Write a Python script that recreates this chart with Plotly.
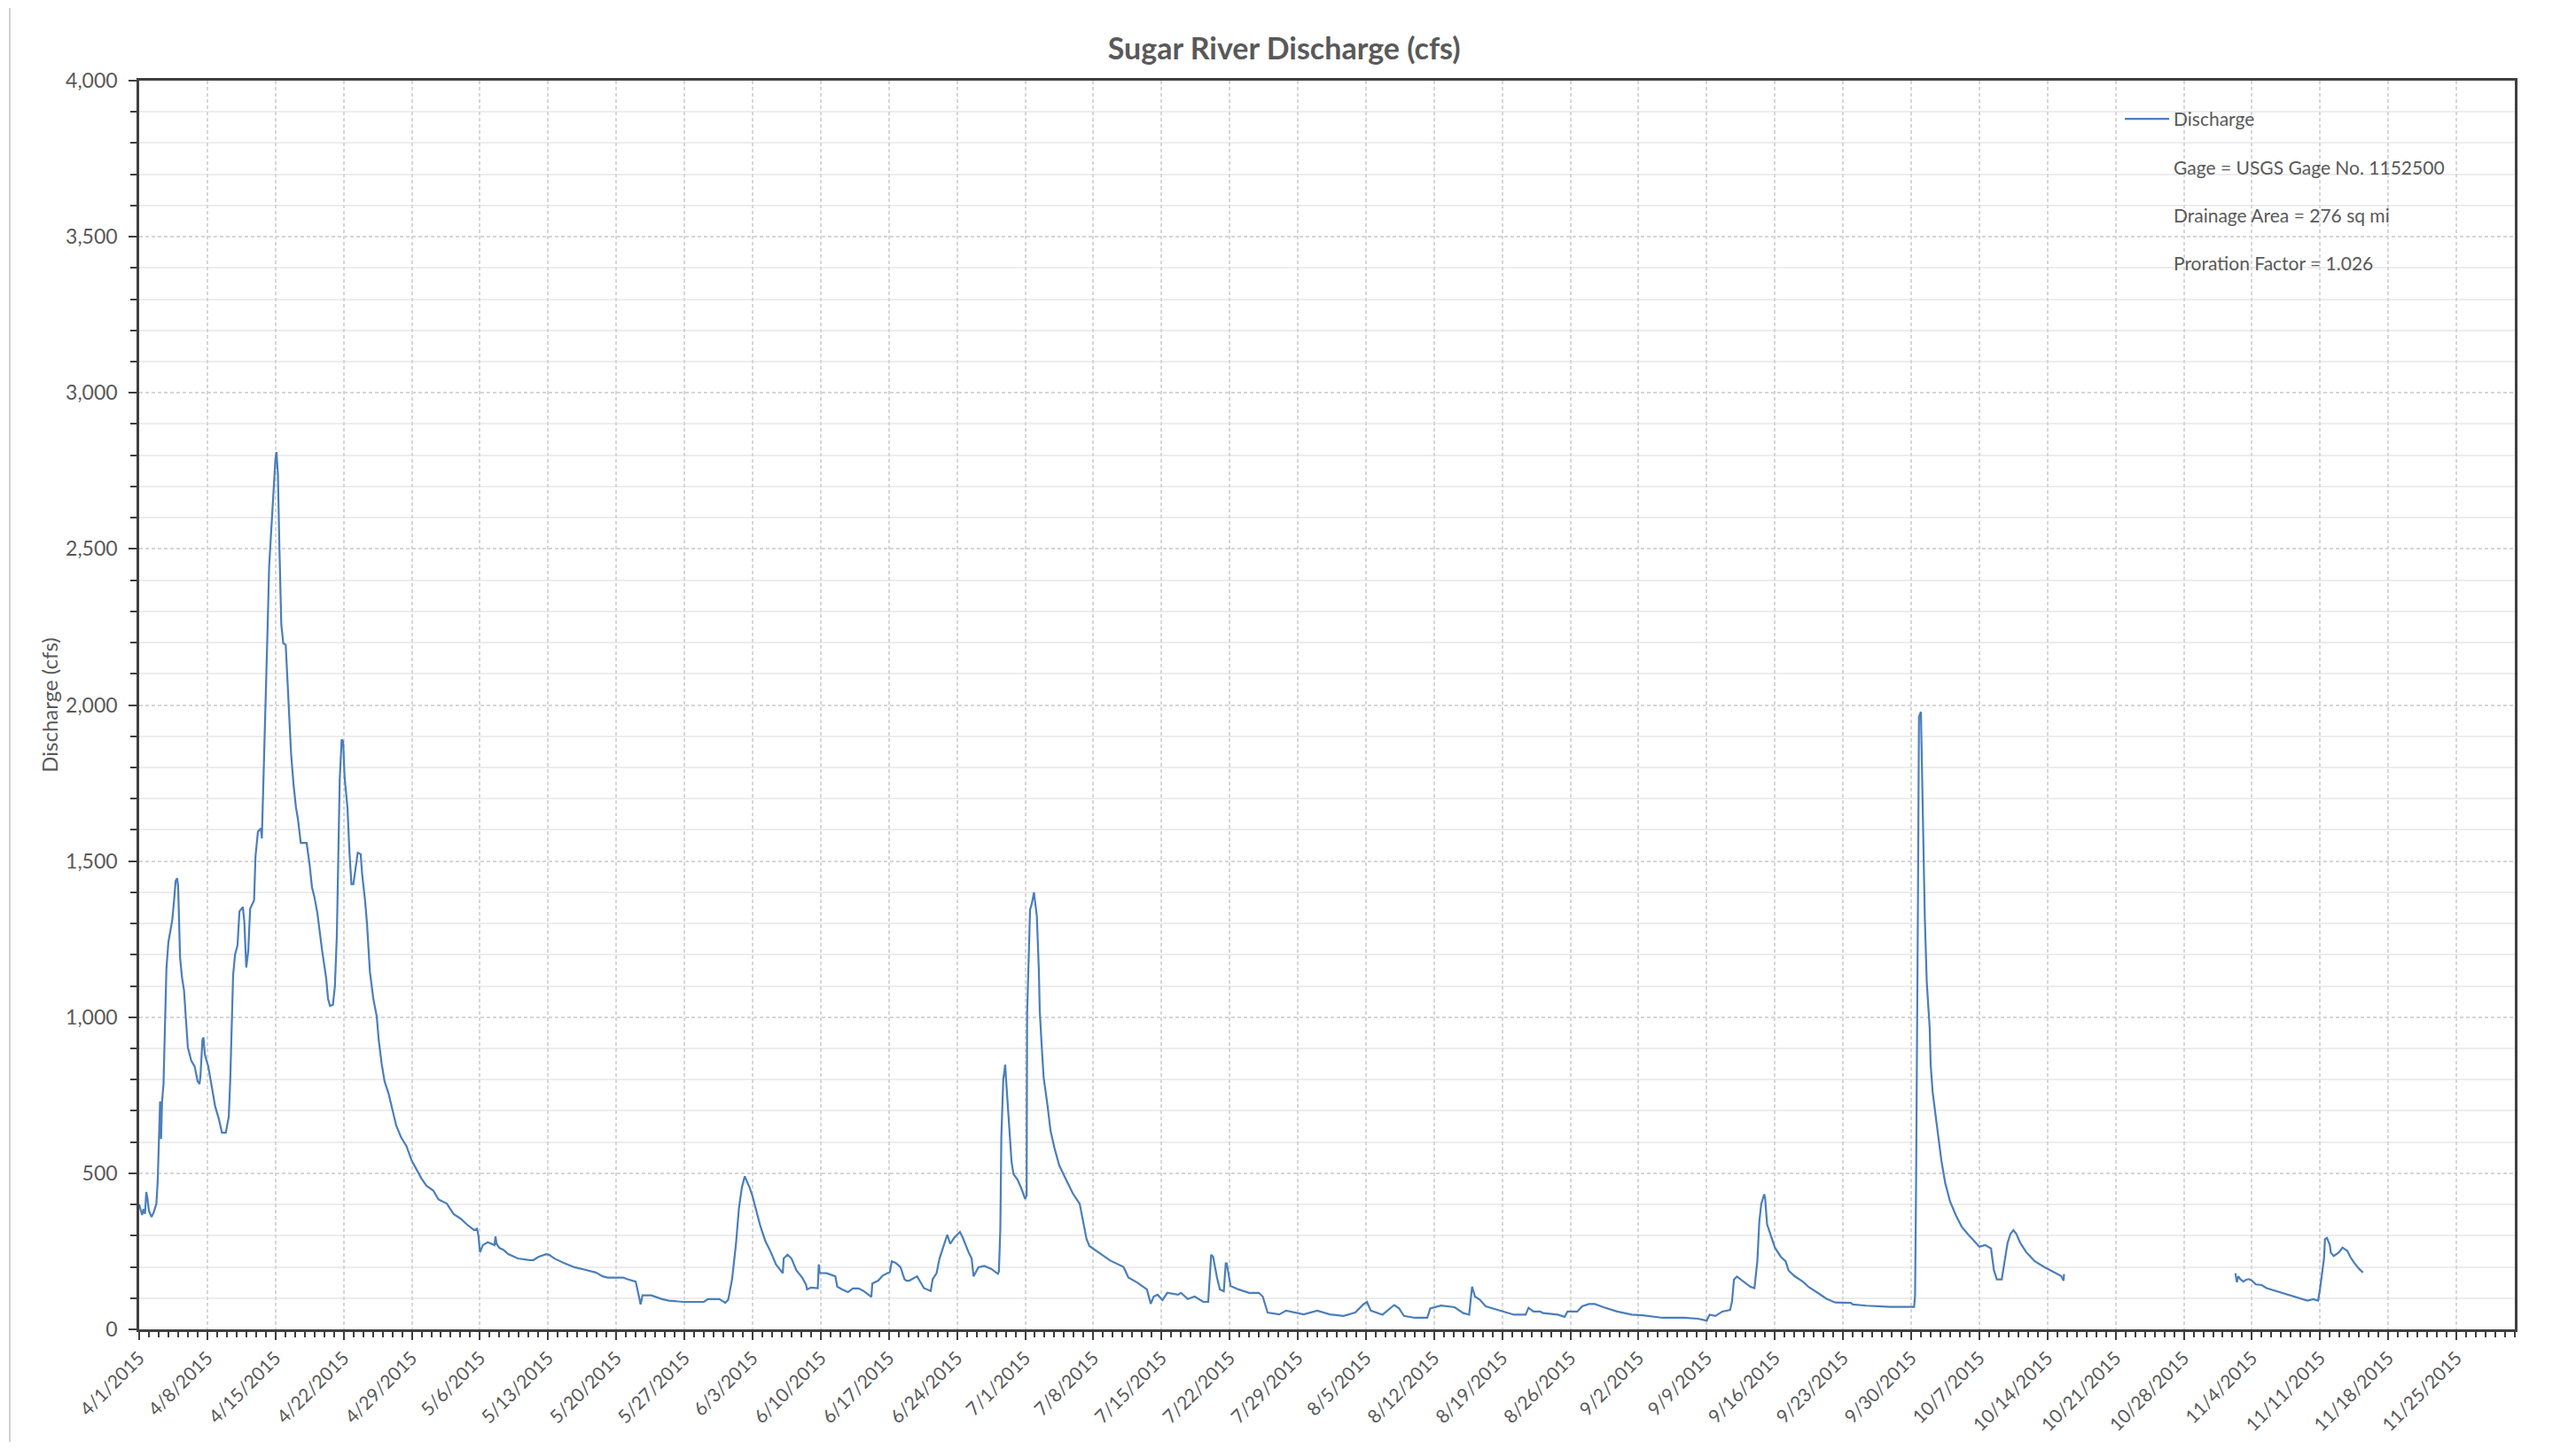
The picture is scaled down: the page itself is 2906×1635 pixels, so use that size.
import pandas as pd
import plotly.graph_objects as go

# ---------------- data ----------------
start_date = "2015-04-01"

# elapsed time since start_date, in days
elapsed_days = [
    0.0, 0.15, 0.3, 0.45, 0.6, 0.73, 0.85, 1.0, 1.26, 1.5,
    1.77, 1.9, 2.0, 2.15, 2.25, 2.35, 2.5, 2.65, 2.8, 3.0,
    3.2, 3.4, 3.55, 3.75, 3.9, 4.0, 4.2, 4.4, 4.6, 4.75,
    4.9, 5.0, 5.35, 5.7, 6.0, 6.2, 6.3, 6.5, 6.6, 6.75,
    7.1, 7.45, 7.8, 8.2, 8.5, 8.9, 9.2, 9.35, 9.5, 9.65,
    9.85, 10.1, 10.3, 10.65, 10.8, 11.0, 11.2, 11.4, 11.8, 11.95,
    12.2, 12.5, 12.6, 12.7, 12.95, 13.2, 13.35, 13.5, 13.65, 13.85,
    14.0, 14.1, 14.25, 14.4, 14.6, 14.8, 15.05, 15.2, 15.4, 15.6,
    15.85, 16.1, 16.3, 16.6, 17.2, 17.5, 17.75, 18.0, 18.3, 18.5,
    18.8, 19.2, 19.4, 19.6, 19.9, 20.1, 20.3, 20.45, 20.6, 20.8,
    20.95, 21.1, 21.4, 21.6, 21.8, 22.0, 22.2, 22.45, 22.75, 22.9,
    23.2, 23.4, 23.7, 24.05, 24.4, 24.6, 24.9, 25.2, 25.6, 25.9,
    26.4, 26.9, 27.45, 28.0, 28.5, 29.0, 29.5, 30.2, 30.75, 31.6,
    32.3, 33.0, 33.7, 34.4, 34.7, 34.85, 35.0, 35.3, 35.8, 36.5,
    36.6, 36.7, 37.0, 37.4, 37.9, 38.3, 38.9, 40.1, 40.5, 41.0,
    41.8, 42.1, 42.7, 43.6, 44.7, 45.8, 46.9, 47.6, 48.1, 49.7,
    50.1, 51.0, 51.2, 51.5, 51.7, 52.6, 53.7, 54.4, 55.9, 58.0,
    58.4, 59.6, 60.2, 60.5, 60.9, 61.3, 61.6, 61.9, 62.2, 62.7,
    63.0, 63.4, 63.8, 64.3, 64.9, 65.4, 66.0, 66.1, 66.2, 66.6,
    67.0, 67.5, 68.1, 68.5, 68.6, 69.0, 69.7, 69.8, 69.9, 70.6,
    71.5, 71.7, 72.2, 72.8, 73.3, 73.9, 74.4, 75.2, 75.3, 75.9,
    76.4, 77.1, 77.3, 77.7, 78.2, 78.6, 78.8, 79.1, 79.9, 80.6,
    81.3, 81.5, 81.9, 82.2, 82.6, 83.0, 83.3, 83.7, 84.3, 84.6,
    85.2, 85.5, 85.7, 86.2, 86.8, 87.5, 88.2, 88.3, 88.45, 88.55,
    88.75, 88.95, 89.05, 89.3, 89.5, 89.6, 89.8, 90.2, 90.6, 91.0,
    91.15, 91.2, 91.5, 91.7, 91.9, 92.2, 92.4, 92.5, 92.7, 92.9,
    93.3, 93.6, 94.0, 94.5, 95.2, 95.9, 96.6, 96.9, 97.3, 97.6,
    98.7, 99.7, 101.1, 101.6, 102.5, 103.5, 103.9, 104.2, 104.6, 105.1,
    105.6, 106.7, 107.0, 107.7, 108.4, 109.3, 109.8, 110.1, 110.3, 110.7,
    111.0, 111.4, 111.6, 111.7, 112.1, 112.9, 114.0, 115.0, 115.4, 115.9,
    117.1, 117.8, 119.6, 121.0, 122.3, 123.7, 124.9, 125.7, 126.1, 126.5,
    127.7, 128.3, 128.9, 129.4, 129.9, 131.0, 132.3, 132.6, 133.7, 135.1,
    136.0, 136.6, 136.9, 137.2, 137.7, 138.3, 139.5, 140.6, 141.2, 142.4,
    142.7, 143.2, 143.9, 144.2, 145.7, 146.4, 146.7, 147.7, 148.2, 148.9,
    149.5, 150.4, 151.8, 153.3, 154.4, 156.5, 158.7, 160.1, 161.0, 161.3,
    161.9, 162.6, 163.4, 163.6, 163.8, 164.1, 164.7, 165.5, 165.9, 166.2,
    166.4, 166.6, 166.9, 167.0, 167.2, 167.6, 168.0, 168.6, 169.1, 169.4,
    170.0, 170.9, 171.5, 172.4, 173.3, 174.2, 175.8, 176.0, 177.4, 179.8,
    182.3, 182.4, 182.5, 182.7, 182.8, 183.0, 183.1, 183.3, 183.4, 183.6,
    183.9, 184.0, 184.2, 184.5, 184.8, 185.1, 185.5, 186.0, 186.6, 187.2,
    187.8, 188.4, 189.0, 189.6, 190.2, 190.5, 190.8, 191.3, 191.6, 191.9,
    192.2, 192.5, 192.8, 193.2, 193.8, 194.7, 195.6, 196.5, 197.4, 197.65,
    197.7, 206.0, 215.3, 215.45, 215.6, 215.8, 216.1, 216.4, 216.7, 217.0,
    217.4, 218.0, 218.5, 219.4, 220.3, 221.2, 222.1, 222.7, 223.3, 223.8,
    224.0, 224.2, 224.4, 224.5, 224.7, 225.0, 225.1, 225.4, 225.9, 226.3,
    226.8, 227.1, 227.5, 228.0, 228.4,
]

# discharge in cfs (None = missing record, leaves a gap)
discharge_cfs = [
    400, 380, 366, 385, 370, 440, 420, 380, 360, 375,
    403, 473, 587, 730, 610, 729, 786, 1013, 1155, 1240,
    1277, 1311, 1362, 1437, 1445, 1420, 1192, 1127, 1088, 1022,
    960, 903, 861, 842, 795, 786, 814, 928, 935, 880,
    842, 776, 715, 672, 630, 630, 681, 795, 974, 1135,
    1201, 1230, 1339, 1353, 1306, 1159, 1211, 1348, 1374, 1516,
    1595, 1605, 1573, 1678, 1962, 2257, 2445, 2529, 2613, 2739,
    2790, 2810, 2739, 2508, 2257, 2198, 2193, 2099, 1989, 1846,
    1747, 1673, 1636, 1558, 1558, 1490, 1416, 1385, 1334, 1277,
    1211, 1127, 1059, 1036, 1040, 1098, 1258, 1510, 1763, 1890,
    1883, 1768, 1669, 1527, 1426, 1426, 1468, 1527, 1522, 1459,
    1374, 1300, 1145, 1059, 1003, 928, 852, 795, 757, 719,
    653, 615, 587, 540, 511, 483, 460, 445, 416, 403,
    369, 355, 335, 318, 322, 300, 247, 270, 279, 270,
    298, 274, 261, 255, 241, 236, 227, 222, 222, 232,
    241, 239, 226, 213, 199, 191, 182, 170, 166, 166,
    161, 153, 123, 80, 109, 109, 97, 92, 88, 88,
    97, 97, 85, 95, 161, 274, 388, 454, 490, 454,
    426, 378, 331, 284, 246, 208, 184, 180, 227, 239,
    227, 189, 166, 142, 128, 134, 132, 208, 181, 180,
    170, 137, 128, 119, 131, 131, 123, 104, 147, 156,
    173, 184, 218, 213, 199, 161, 156, 156, 170, 132,
    123, 161, 180, 227, 265, 303, 274, 293, 312, 293,
    246, 227, 170, 199, 203, 194, 178, 185, 323, 616,
    800, 848, 795, 680, 571, 537, 497, 480, 452, 418,
    430, 1008, 1344, 1366, 1400, 1323, 1153, 1019, 906, 806,
    716, 637, 582, 525, 480, 435, 402, 357, 290, 267,
    244, 221, 200, 166, 150, 128, 82, 105, 111, 94,
    117, 111, 117, 97, 105, 88, 88, 239, 233, 166,
    128, 122, 211, 211, 139, 128, 117, 117, 105, 54,
    48, 60, 48, 60, 48, 43, 54, 79, 88, 60,
    47, 62, 78, 67, 43, 37, 37, 67, 76, 71,
    52, 47, 137, 105, 95, 74, 62, 52, 47, 47,
    69, 57, 57, 52, 47, 40, 57, 57, 74, 81,
    81, 71, 57, 47, 45, 37, 37, 34, 28, 47,
    43, 57, 62, 90, 160, 169, 155, 136, 132, 218,
    345, 401, 433, 420, 336, 299, 262, 233, 218, 189,
    171, 152, 135, 117, 98, 86, 85, 80, 76, 72,
    72, 108, 453, 1391, 1962, 1978, 1816, 1567, 1318, 1113,
    966, 849, 761, 687, 614, 541, 468, 409, 365, 328,
    306, 284, 265, 270, 259, 189, 160, 160, 218, 277,
    306, 318, 306, 277, 248, 218, 201, 186, 171, 156,
    177, None, 180, 151, 170, 161, 153, 159, 161, 156,
    144, 142, 132, 123, 114, 106, 97, 92, 97, 92,
    132, 180, 227, 289, 293, 270, 246, 235, 246, 262,
    251, 232, 213, 194, 182,
]

assert len(elapsed_days) == len(discharge_cfs)

series_name = "Discharge"
legend_notes = [
    "Gage = USGS Gage No. 1152500",
    "Drainage Area = 276 sq mi",
    "Proration Factor = 1.026",
]
chart_title = "Sugar River Discharge (cfs)"
y_title = "Discharge (cfs)"
x_range = ["2015-04-01", "2015-12-01"]
y_range = [0, 4000]

# ---------------- figure ----------------
t0 = pd.Timestamp(start_date)
x_dates = [t0 + pd.Timedelta(days=d) for d in elapsed_days]

FONT = "Lato, 'Open Sans', sans-serif"
TXT = "#595959"
AX = "#3f3f3f"
DAY_MS = 86400000

# page body has an 8px default margin; figure sized to fit inside it
W, H = 2890, 1619
PLOT_W = 2680   # page px 157 .. 2837
PLOT_H = 1409   # page px 91 .. 1500


def px_x(page_x):
    return (page_x - 157) / PLOT_W


def px_y(page_y):
    return (1500 - page_y) / PLOT_H


fig = go.Figure()
fig.add_trace(go.Scatter(
    x=x_dates, y=discharge_cfs, mode="lines", name=series_name,
    line=dict(color="#4A7EBB", width=2.2), connectgaps=False,
    legendgroup="g0",
))
for i, note in enumerate(legend_notes):
    fig.add_trace(go.Scatter(
        x=[None], y=[None], mode="lines", name=note,
        line=dict(color="rgba(0,0,0,0)", width=0),
        legendgroup=f"n{i}", hoverinfo="skip",
    ))

fig.update_layout(
    width=W, height=H,
    margin=dict(l=149, r=61, t=83, b=127, autoexpand=False),
    paper_bgcolor="white", plot_bgcolor="white",
    font=dict(family=FONT, color=TXT, size=23),
    title=dict(text=chart_title, x=0.4985, xanchor="center",
               y=1 - 47 / H, yanchor="middle",
               font=dict(family=FONT, size=34, color=TXT, weight="bold")),
    showlegend=True,
    legend=dict(x=px_x(2392), y=px_y(114), xanchor="left", yanchor="top",
                bgcolor="rgba(0,0,0,0)", borderwidth=0,
                font=dict(family=FONT, size=21, color=TXT),
                tracegroupgap=24, itemwidth=50, itemclick=False),
    xaxis=dict(
        type="date", range=x_range, automargin=False,
        tick0=start_date, dtick=7 * DAY_MS, tickformat="%-m/%-d/%Y",
        tickangle=-45, tickfont=dict(family=FONT, size=21, color=TXT),
        ticklabelstandoff=0,
        showline=True, linecolor=AX, linewidth=2.5, mirror=True,
        ticks="outside", ticklen=9, tickwidth=2, tickcolor=AX,
        showgrid=True, gridcolor="#d6d6d6", gridwidth=1.5, griddash="4px,3px",
        minor=dict(dtick=DAY_MS, tick0=start_date, ticks="outside", ticklen=6,
                   tickwidth=2, tickcolor=AX, showgrid=False),
        zeroline=False,
    ),
    yaxis=dict(
        range=y_range, dtick=500, tickformat=",", automargin=False,
        tickfont=dict(family=FONT, size=23, color=TXT),
        ticklabelstandoff=8,
        showline=True, linecolor=AX, linewidth=2.5, mirror=True,
        ticks="outside", ticklen=9, tickwidth=2, tickcolor=AX,
        showgrid=True, gridcolor="#d6d6d6", gridwidth=1.5, griddash="4px,3px",
        minor=dict(dtick=100, ticks="outside", ticklen=7, tickwidth=2,
                   tickcolor=AX, showgrid=True, gridcolor="#ededed",
                   gridwidth=1.5, griddash="solid"),
        zeroline=False,
        title=dict(text=y_title, standoff=2,
                   font=dict(family=FONT, size=24, color=TXT)),
    ),
    shapes=[
        # white panel behind the legend text
        dict(type="rect", xref="paper", yref="paper", layer="between",
             x0=px_x(2323), x1=px_x(2824), y0=px_y(327), y1=px_y(105),
             fillcolor="white", line=dict(width=0)),
        # chart-area border at the left edge
        dict(type="line", xref="paper", yref="paper", layer="above",
             x0=px_x(11), x1=px_x(11), y0=-0.2, y1=px_y(9),
             line=dict(color="#d0d0d0", width=2)),
    ],
)

fig.write_html("out.html")
